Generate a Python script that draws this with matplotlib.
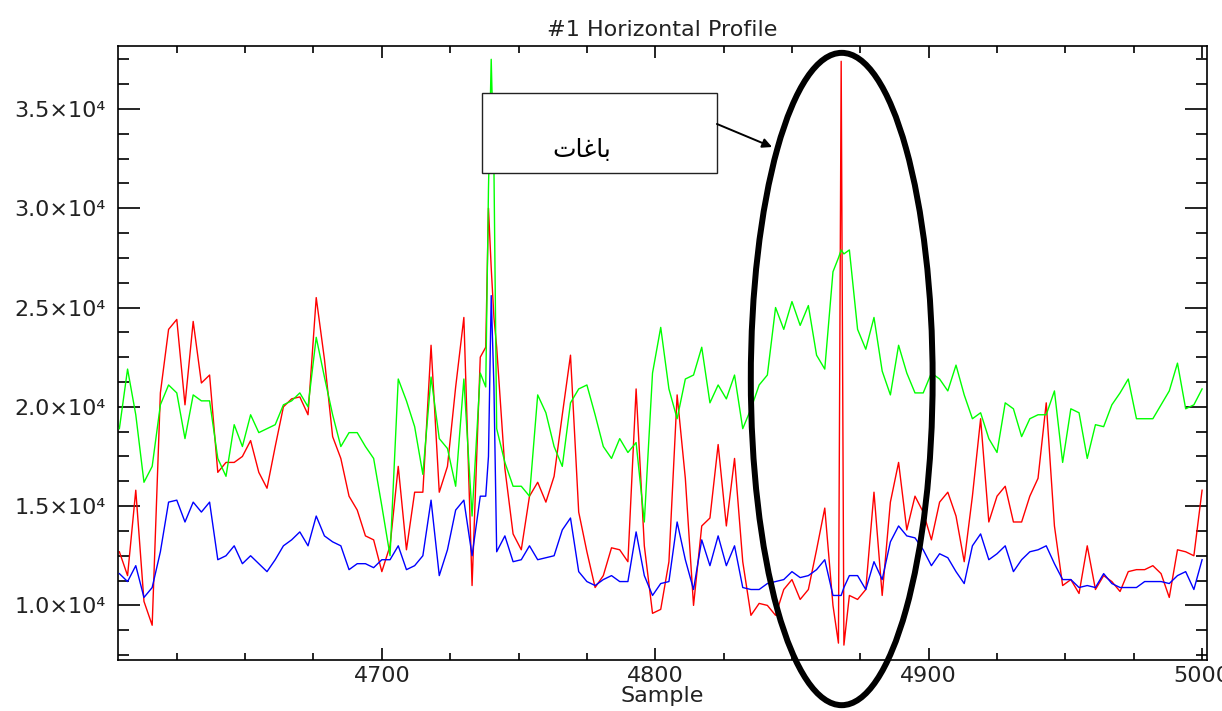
#!/usr/bin/env python3
"""#1 Horizontal Profile, three band traces with a highlighted region."""

import numpy as np
import matplotlib
matplotlib.use("Agg")
from matplotlib import pyplot as plt
from matplotlib.patches import Ellipse, Rectangle
from matplotlib.ticker import FuncFormatter, MultipleLocator

# sample positions (3-sample step, denser around the two spikes)
sample = np.r_[
    np.arange(4604, 4737, 3), [4738, 4739, 4740, 4741],
    np.arange(4742, 4866, 3), [4867, 4868, 4869],
    np.arange(4871, 5001, 3),
]

green = [
    18900, 21900, 19600, 16200, 17000, 20100, 21100, 20700, 18400, 20600,
    20300, 20300, 17400, 16500, 19100, 18000, 19600, 18700, 18900, 19100,
    20100, 20300, 20700, 20000, 23500, 21500, 19600, 18000, 18700, 18700,
    18000, 17400, 15000, 12500, 21400, 20300, 19000, 16600, 21500, 18400,
    17900, 16000, 21400, 14500, 21700,
    21000, 31000, 37500, 32000,
    18900, 17200, 16000, 16000, 15500, 20600, 19700, 18000, 17000, 20200,
    20900, 21100, 19600, 18000, 17400, 18400, 17700, 18200, 14200, 21700,
    24000, 20900, 19400, 21400, 21600, 23000, 20200, 21100, 20400, 21600,
    18900, 19900, 21100, 21600, 25000, 23900, 25300, 24100, 25100, 22600,
    21900, 26800,
    27500, 27900, 27700,
    27900, 23900, 22900, 24500, 21800, 20600, 23100, 21700, 20700, 20700,
    21700, 21400, 20800, 22100, 20600, 19400, 19700, 18400, 17700, 20200,
    19900, 18500, 19400, 19600, 19600, 20800, 17200, 19900, 19700, 17400,
    19100, 19000, 20100, 20700, 21400, 19400, 19400, 19400, 20100, 20800,
    22200, 19900, 20100, 20900,
]

red = [
    12700, 11500, 15800, 10200, 9000, 20700, 23900, 24400, 20100, 24300,
    21200, 21600, 16700, 17200, 17200, 17500, 18300, 16700, 15900, 18000,
    20000, 20400, 20500, 19600, 25500, 22400, 18500, 17400, 15500, 14800,
    13500, 13300, 11700, 13000, 17000, 12800, 15700, 15700, 23100, 15700,
    17000, 21000, 24500, 11000, 22500,
    23000, 30000, 27000, 24500,
    23000, 16900, 13600, 12800, 15500, 16200, 15200, 16500, 19600, 22600,
    14700, 12700, 10900, 11500, 12900, 12800, 12200, 20900, 13000, 9600,
    9800, 12200, 20600, 16400, 10000, 14000, 14400, 18100, 14000, 17400,
    12200, 9500, 10100, 10000, 9500, 10800, 11300, 10300, 10800, 12800,
    14900, 10000,
    8100, 37400, 8000,
    10500, 10300, 10800, 15700, 10500, 15200, 17200, 13800, 15500, 14700,
    13300, 15200, 15700, 14500, 12200, 15500, 19400, 14200, 15500, 16000,
    14200, 14200, 15500, 16400, 20200, 14000, 11000, 11300, 10600, 13000,
    10800, 11500, 11200, 10700, 11700, 11800, 11800, 12000, 11600, 10400,
    12800, 12700, 12500, 15800,
]

blue = [
    11600, 11200, 12000, 10400, 10900, 12700, 15200, 15300, 14200, 15200,
    14700, 15200, 12300, 12500, 13000, 12100, 12500, 12100, 11700, 12300,
    13000, 13300, 13700, 13000, 14500, 13500, 13200, 13000, 11800, 12100,
    12100, 11900, 12300, 12300, 13000, 11800, 12000, 12500, 15300, 11500,
    12800, 14800, 15300, 12500, 15500,
    15500, 17500, 25600, 21000,
    12700, 13500, 12200, 12300, 13000, 12300, 12400, 12500, 13800, 14400,
    11700, 11200, 11000, 11300, 11500, 11200, 11200, 13700, 11500, 10500,
    11100, 11200, 14200, 12300, 10800, 13300, 12000, 13500, 12000, 13000,
    10900, 10800, 10800, 11100, 11200, 11300, 11700, 11400, 11500, 11800,
    12300, 10500,
    10500, 10500, 10900,
    11500, 11500, 10800, 12200, 11300, 13200, 14000, 13500, 13400, 12800,
    12000, 12600, 12400, 11700, 11100, 13000, 13600, 12300, 12600, 13000,
    11700, 12300, 12700, 12800, 13000, 12100, 11300, 11300, 10900, 11000,
    10900, 11600, 11100, 10900, 10900, 10900, 11200, 11200, 11200, 11100,
    11500, 11700, 10800, 12300,
]

label_text = "باغات"

# presentation forms: isolated, final, initial, medial
_FORMS = {
    "\u0628": ("\ufe8f", "\ufe90", "\ufe91", "\ufe92"),
    "\u0627": ("\ufe8d", "\ufe8e", None, None),
    "\u063a": ("\ufecd", "\ufece", "\ufecf", "\ufed0"),
    "\u062a": ("\ufe95", "\ufe96", "\ufe97", "\ufe98"),
}


def shape_arabic(text: str) -> str:
    """Tiny contextual shaper for the letters used here, returned in visual order."""
    out = []
    for i, ch in enumerate(text):
        forms = _FORMS.get(ch)
        if forms is None:
            out.append(ch)
            continue
        prev = text[i - 1] if i > 0 else None
        nxt = text[i + 1] if i + 1 < len(text) else None
        joins_prev = prev in _FORMS and _FORMS[prev][2] is not None
        joins_next = forms[2] is not None and nxt in _FORMS
        if joins_prev and joins_next:
            out.append(forms[3])
        elif joins_prev:
            out.append(forms[1])
        elif joins_next:
            out.append(forms[2])
        else:
            out.append(forms[0])
    return "".join(reversed(out))


def sci_label(value, _pos):
    return f"{value / 1e4:.1f}\u00d710\u2074"


W, H = 1222, 711
fig = plt.figure(figsize=(W / 100, H / 100), dpi=100)
ax = fig.add_axes([118 / W, 1 - 660 / H, (1207 - 118) / W, (660 - 46) / H])

ax.plot(sample, red, color="#ff0000", linewidth=1.0, zorder=2)
ax.plot(sample, green, color="#00ff00", linewidth=1.0, zorder=3)
ax.plot(sample, blue, color="#0000ff", linewidth=1.0, zorder=4)

ax.set_xlim(4603.5, 5001.8)
ax.set_ylim(7250, 38170)

text_color = "#222222"
ax.xaxis.set_major_locator(MultipleLocator(100))
ax.xaxis.set_minor_locator(MultipleLocator(25))
ax.yaxis.set_major_locator(MultipleLocator(5000))
ax.yaxis.set_minor_locator(MultipleLocator(1250))
ax.yaxis.set_major_formatter(FuncFormatter(sci_label))

ax.tick_params(axis="both", which="both", direction="in", top=True, right=True,
               colors="black", labelcolor=text_color, labelsize=16, width=1.2)
ax.tick_params(axis="x", which="major", length=8.5, pad=4)
ax.tick_params(axis="x", which="minor", length=4.7)
ax.tick_params(axis="y", which="major", length=15.8, pad=9)
ax.tick_params(axis="y", which="minor", length=7.9)
for spine in ax.spines.values():
    spine.set_linewidth(1.2)

ax.set_title("#1 Horizontal Profile", fontsize=16, color=text_color, pad=7)
ax.set_xlabel("Sample", fontsize=16, color=text_color, labelpad=0)

# highlighted region around the red spike
ax.add_patch(Ellipse((4868.2, 21400), 66.5, 32850, fill=False, edgecolor="black",
                     linewidth=4.3, clip_on=False, zorder=6))

# callout box with arrow
ax.add_patch(Rectangle((0.3343, 0.7932), 0.2157, 0.1303, transform=ax.transAxes,
                       facecolor="white", edgecolor="#222222", linewidth=1.0,
                       zorder=7))
ax.text(0.426, 0.83, shape_arabic(label_text), transform=ax.transAxes,
        fontsize=18, family="DejaVu Sans", ha="center", va="center",
        color="black", zorder=8)
ax.annotate("", xy=(0.6006, 0.8355), xytext=(0.550, 0.873),
            xycoords="axes fraction", textcoords="axes fraction",
            arrowprops=dict(arrowstyle="-|>", color="black", lw=1.4,
                            mutation_scale=14, shrinkA=0, shrinkB=0),
            zorder=8)

fig.savefig("out.png", dpi=100)
plt.close(fig)
